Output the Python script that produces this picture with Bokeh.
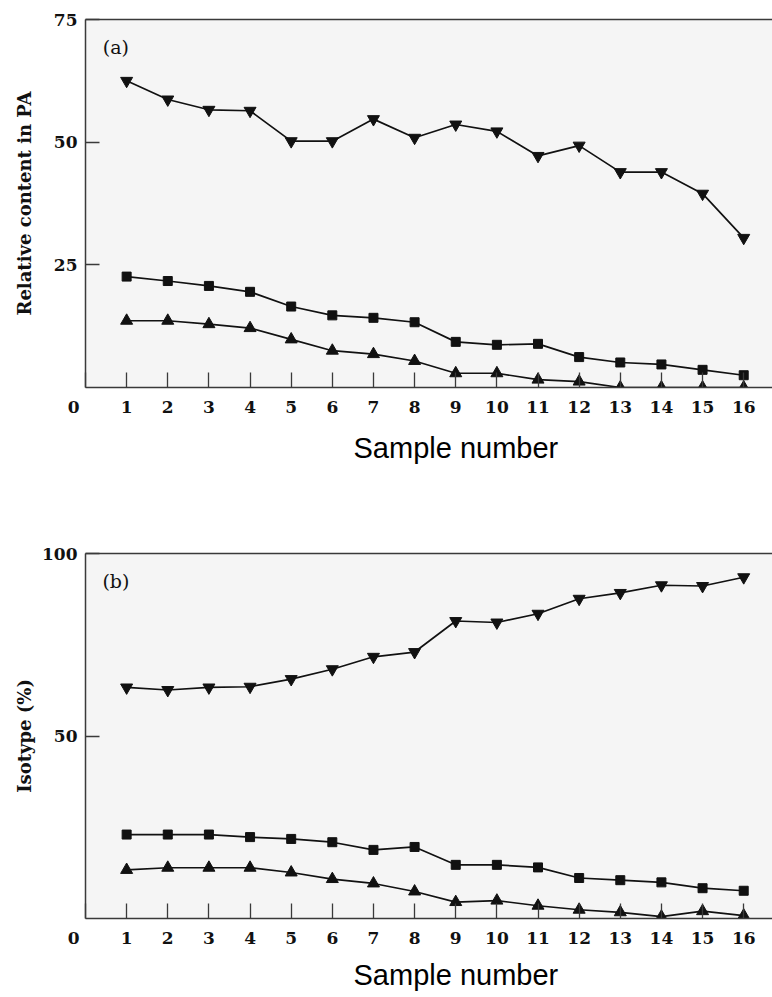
from bokeh.plotting import figure
from bokeh.models import Range1d, FixedTicker, LinearAxis, Title
from bokeh.models import Label
from bokeh.layouts import column
from bokeh.embed import file_html
from bokeh.resources import INLINE

samples = list(range(1, 17))
x_ticks = list(range(0, 17))

# Panel (a): relative content in PA
a_down = [62.5, 58.7, 56.6, 56.4, 50.2, 50.2, 54.7, 50.9, 53.6, 52.2, 47.2, 49.3, 43.9, 43.9, 39.5, 30.5]
a_square = [22.6, 21.7, 20.7, 19.5, 16.5, 14.7, 14.2, 13.3, 9.3, 8.7, 8.9, 6.2, 5.1, 4.7, 3.6, 2.5]
a_up = [13.6, 13.6, 12.9, 12.1, 9.8, 7.5, 6.8, 5.4, 2.9, 2.9, 1.6, 1.2, 0.0, 0.0, 0.0, 0.0]
a_yticks = [25, 50, 75]

# Panel (b): isotype (%)
b_down = [63.3, 62.6, 63.3, 63.5, 65.6, 68.3, 71.7, 73.0, 81.5, 81.1, 83.5, 87.6, 89.2, 91.3, 91.1, 93.5]
b_square = [23.0, 23.0, 23.0, 22.3, 21.8, 20.9, 18.8, 19.6, 14.7, 14.7, 14.0, 11.1, 10.5, 9.9, 8.3, 7.6]
b_up = [13.3, 13.9, 13.9, 13.9, 12.6, 10.8, 9.6, 7.4, 4.5, 4.9, 3.5, 2.4, 1.7, 0.5, 2.0, 0.8]
b_yticks = [50, 100]

SERIF = "DejaVu Serif"
SANS = "Liberation Sans"
AX = "#3a3a3a"
INK = "#111111"


def panel(height, top, bottom, ymax, yticks, ylabel, ylabel_standoff,
          down, square, up, tag, tag_y, title_standoff):
    p = figure(width=772, height=height, x_range=Range1d(0, 16.70),
               y_range=Range1d(0, ymax), output_backend="svg",
               toolbar_location=None, min_border_left=85, min_border_right=0,
               min_border_top=top, min_border_bottom=bottom)
    p.background_fill_color = "#f5f5f5"
    p.border_fill_color = "white"
    p.outline_line_color = None
    p.grid.visible = False

    xa = p.xaxis[0]
    xa.ticker = FixedTicker(ticks=x_ticks)
    xa.major_label_overrides = {0: "0\u2007\u2007"}
    xa.major_tick_in = 15
    xa.major_tick_out = 0
    xa.minor_tick_line_color = None
    xa.axis_line_color = AX
    xa.axis_line_width = 1.5
    xa.major_tick_line_color = AX
    xa.major_tick_line_width = 1.3
    xa.major_label_standoff = 9
    xa.major_label_text_font = SERIF
    xa.major_label_text_font_style = "bold"
    xa.major_label_text_font_size = "17px"
    xa.major_label_text_color = INK

    ya = p.yaxis[0]
    ya.ticker = FixedTicker(ticks=yticks)
    ya.major_tick_in = 14
    ya.major_tick_out = 0
    ya.minor_tick_line_color = None
    ya.axis_line_color = AX
    ya.axis_line_width = 1.5
    ya.major_tick_line_color = AX
    ya.major_tick_line_width = 1.3
    ya.major_label_standoff = 8
    ya.major_label_text_font = SERIF
    ya.major_label_text_font_style = "bold"
    ya.major_label_text_font_size = "17px"
    ya.major_label_text_color = INK
    ya.axis_label = ylabel
    ya.axis_label_text_font = SERIF
    ya.axis_label_text_font_style = "bold"
    ya.axis_label_text_font_size = "18px"
    ya.axis_label_text_color = INK
    ya.axis_label_standoff = ylabel_standoff

    top_ax = LinearAxis(ticker=FixedTicker(ticks=[]), major_label_text_font_size="0px",
                        major_tick_in=0, major_tick_out=0, minor_tick_line_color=None,
                        axis_line_color=AX, axis_line_width=1.5)
    p.add_layout(top_ax, "above")

    p.add_layout(Title(text="Sample number", align="left", offset=268,
                       standoff=title_standoff, text_font=SANS, text_font_size="29px",
                       text_font_style="normal", text_color="black"), "below")

    for ys, kind, size in ((down, "inverted_triangle", 12), (square, "square", 9), (up, "triangle", 12)):
        p.line(samples, ys, line_color=INK, line_width=1.7)
        p.scatter(samples, ys, marker=kind, size=size, fill_color=INK, line_color=INK)

    p.add_layout(Label(x=0.74, y=tag_y, text=tag, text_align="center", text_baseline="middle",
                       text_font=SERIF, text_font_size="19px", text_color=INK))
    return p


pa = panel(500, 19, 113, 75, a_yticks, "Relative content in PA", 16,
           a_down, a_square, a_up, "(a)", 69.4, 20)
pb = panel(497, 53, 78, 100, b_yticks, "Isotype (%)", 4,
           b_down, b_square, b_up, "(b)", 92.6, 13)

layout = column(pa, pb, spacing=0)
open("out.html", "w").write(file_html(layout, INLINE))
